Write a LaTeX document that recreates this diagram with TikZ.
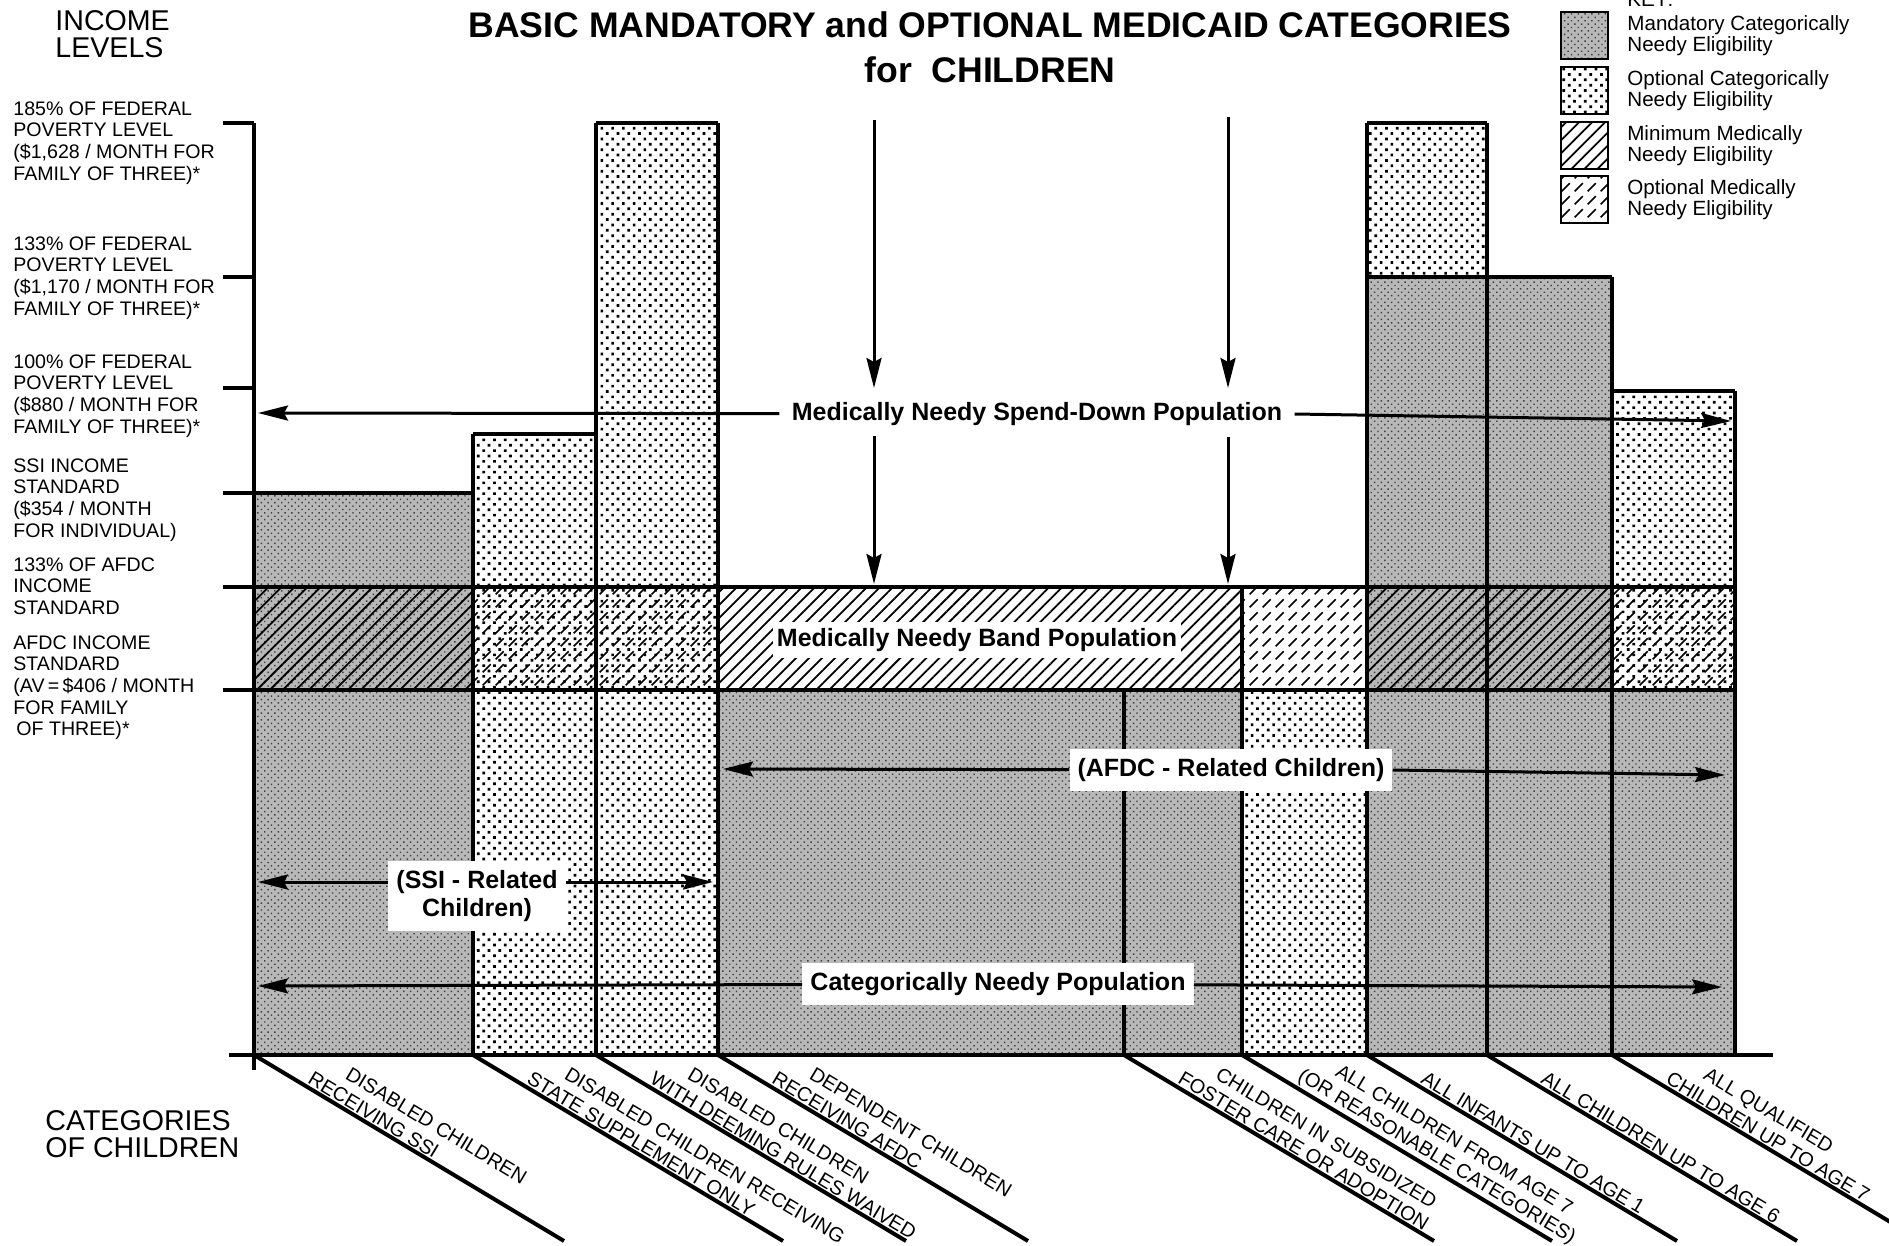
\documentclass[tikz,border=0pt]{standalone}
\usepackage{fontspec}
\setmainfont{Liberation Sans}
\usepackage{tikz}
\usetikzlibrary{arrows.meta,positioning,patterns.meta}

% short dashes on the diagonal, for the optional medically needy band
\pgfdeclarepattern{
  name=dashhatch,
  type=uncolored,
  bottom left={\pgfpoint{0pt}{0pt}},
  top right={\pgfpoint{6.5pt}{6.5pt}},
  tile size={\pgfpoint{6.5pt}{6.5pt}},
  code={
    \pgfsetlinewidth{0.9pt}
    \pgfpathmoveto{\pgfpoint{0.9pt}{0.9pt}}
    \pgfpathlineto{\pgfpoint{5.2pt}{5.2pt}}
    \pgfusepath{stroke}
  }
}

\definecolor{mandgray}{gray}{0.72}
\tikzstyle{mand} = [preaction={fill=mandgray}, pattern={Dots[distance=2.4pt, radius=0.5pt, angle=45]}, pattern color=black!75]
\tikzstyle{optc} = [pattern={Dots[distance=3.8pt, radius=0.95pt, angle=45]}]
\tikzstyle{minmed} = [pattern={Lines[angle=45, distance=4.6pt, line width=0.9pt]}]
\tikzstyle{optmed} = [pattern=dashhatch]
\tikzstyle{outl} = [draw, line width=2pt]
\tikzstyle{arr} = [draw, line width=1.5pt, -{Stealth[length=15pt, width=7.5pt, inset=2pt]}]
\tikzstyle{ttl} = [inner sep=0pt, font=\bfseries\fontsize{17.8}{20}\selectfont]
\tikzstyle{axt} = [align=left, anchor=north west, inner sep=0pt, font=\fontsize{14.3}{13.6}\selectfont]
\tikzstyle{lvl} = [align=left, anchor=north west, inner sep=0pt, font=\fontsize{9.8}{10.85}\selectfont]
\tikzstyle{pop} = [fill=white, align=center, inner xsep=4pt, inner ysep=4.5pt, font=\bfseries\fontsize{12.5}{14}\selectfont]
\tikzstyle{diag} = [rotate=-31, anchor=south west, align=left, inner sep=1.5pt, font=\fontsize{10}{11.5}\selectfont]
\tikzstyle{keybox} = [draw, line width=1pt, inner sep=0pt, minimum width=23.5pt, minimum height=23.5pt]
\tikzstyle{keytext} = [align=left, inner sep=0pt, font=\fontsize{10.3}{10.5}\selectfont]

\begin{document}
\begin{tikzpicture}[x=0.5pt, y=-0.5pt]
\useasboundingbox (0,0) rectangle (1889,1246);

% title =============================
\node[ttl] (title) at (990,25) {BASIC MANDATORY and OPTIONAL MEDICAID CATEGORIES};
\node[ttl, below=9pt of title] (title2) {for\ \ CHILDREN};

% key =============================
\node[keytext, anchor=base west] (keyhd) at (1627,7) {KEY:};
\node[keybox, mand] (kmand) at (1584.5,35.5) {};
\node[keybox, optc] (kopt) at (1584.5,91) {};
\node[keybox, minmed] (kmin) at (1584.5,145.5) {};
\node[keybox, optmed] (komed) at (1584.5,199.5) {};
\node[keytext, right=9pt of kmand] {Mandatory Categorically\\Needy Eligibility};
\node[keytext, right=9pt of kopt] {Optional Categorically\\Needy Eligibility};
\node[keytext, right=9pt of kmin] {Minimum Medically\\Needy Eligibility};
\node[keytext, right=9pt of komed] {Optional Medically\\Needy Eligibility};

% columns =============================
\fill[mand] (254,493) rectangle (473,1055);
\fill[optc] (473,434) rectangle (596,1055);
\fill[optc] (596,123) rectangle (718,1055);
\fill[mand] (718,690) rectangle (1242,1055);
\fill[optc] (1242,690) rectangle (1367,1055);
\fill[optc] (1367,123) rectangle (1487,277);
\fill[mand] (1367,277) rectangle (1612,1055);
\fill[optc] (1612,391) rectangle (1735,690);
\fill[mand] (1612,690) rectangle (1735,1055);

% band
\fill[minmed] (254,587) rectangle (473,690);
\fill[optmed] (473,587) rectangle (718,690);
\fill[minmed] (718,587) rectangle (1242,690);
\fill[optmed] (1242,587) rectangle (1367,690);
\fill[minmed] (1367,587) rectangle (1612,690);
\fill[optmed] (1612,587) rectangle (1735,690);

% outlines
\path[outl] (223,123) -- (254,123);
\path[outl] (223,277) -- (254,277);
\path[outl] (223,388) -- (254,388);
\path[outl] (223,493) -- (473,493);
\path[outl] (223,587) -- (1735,587);
\path[outl] (223,690) -- (1735,690);
\path[outl] (473,434) -- (596,434);
\path[outl] (596,123) -- (718,123);
\path[outl] (1367,123) -- (1487,123);
\path[outl] (1367,277) -- (1612,277);
\path[outl] (1612,391) -- (1735,391);
\path[outl] (254,123) -- (254,1070);
\path[outl] (473,434) -- (473,1055);
\path[outl] (596,123) -- (596,1055);
\path[outl] (718,123) -- (718,1055);
\path[outl] (1124,690) -- (1124,1055);
\path[outl] (1242,587) -- (1242,1055);
\path[outl] (1367,123) -- (1367,1055);
\path[outl] (1487,123) -- (1487,1055);
\path[outl] (1612,277) -- (1612,1055);
\path[outl] (1735,391) -- (1735,1055);
\path[outl] (229,1055) -- (1773,1055);

% spend-down arrows
\node[pop, inner xsep=6pt] (sdlbl) at (1037,414) {Medically Needy Spend-Down Population};
\coordinate (sdL) at (258,413);
\coordinate (sdR) at (1731,421);
\path[arr] (sdlbl) -- (sdL);
\path[arr] (sdlbl.east) -- (sdR);

\coordinate (va) at (874,120);
\coordinate (vatip) at (874,388);
\coordinate (vb) at (874,436);
\coordinate (vbtip) at (874,584);
\coordinate (wa) at (1228,117);
\coordinate (watip) at (1228,388);
\coordinate (wb) at (1228,437);
\coordinate (wbtip) at (1228,584);
\path[arr] (va) -- (vatip);
\path[arr] (vb) -- (vbtip);
\path[arr] (wa) -- (watip);
\path[arr] (wb) -- (wbtip);

\node[pop, inner xsep=2pt, inner ysep=3pt] (bandlbl) at (977,640) {Medically Needy Band Population};

% population arrows
\node[pop] (afdclbl) at (1231,770) {(AFDC - Related Children)};
\coordinate (afdcL) at (723,769);
\coordinate (afdcR) at (1725,775);
\path[arr] (afdclbl) -- (afdcL);
\path[arr] (afdclbl.east) -- (afdcR);

\node[pop] (ssilbl) at (477,896) {(SSI - Related\\Children)};
\coordinate (ssiL) at (258,882);
\coordinate (ssiR) at (713,882);
\path[arr] (ssilbl.west |- ssiL) -- (ssiL);
\path[arr] (ssilbl.east |- ssiR) -- (ssiR);

\node[pop] (catlbl) at (998,984) {Categorically Needy Population};
\coordinate (catL) at (258,986);
\coordinate (catR) at (1722,987);
\path[arr] (catlbl) -- (catL);
\path[arr] (catlbl) -- (catR);

% income levels =============================
\node[axt] (inclbl) at (55,10) {INCOME\\LEVELS};
\node[lvl] (l185) at (13,101) {185\% OF FEDERAL\\POVERTY LEVEL\\(\$1,628 / MONTH FOR\\FAMILY OF THREE)*};
\node[lvl] (l133) at (13,236) {133\% OF FEDERAL\\POVERTY LEVEL\\(\$1,170 / MONTH FOR\\FAMILY OF THREE)*};
\node[lvl] (l100) at (13,354) {100\% OF FEDERAL\\POVERTY LEVEL\\(\$880 / MONTH FOR\\FAMILY OF THREE)*};
\node[lvl] (lssi) at (13,458) {SSI INCOME\\STANDARD\\(\$354 / MONTH\\FOR INDIVIDUAL)};
\node[lvl] (l133a) at (13,557) {133\% OF AFDC\\INCOME\\STANDARD};
\node[lvl] (lafdc) at (13,635) {AFDC INCOME\\STANDARD\\(AV\,=\,\$406 / MONTH\\FOR FAMILY\\\hspace*{1.5pt}OF THREE)*};

% categories =============================
\node[axt] (catchild) at (45,1110) {CATEGORIES\\OF CHILDREN};

\coordinate (d0) at (254,1055);
\coordinate (d1) at (473,1055);
\coordinate (d2) at (596,1055);
\coordinate (d3) at (718,1055);
\coordinate (d4) at (1124,1055);
\coordinate (d5) at (1242,1055);
\coordinate (d6) at (1367,1055);
\coordinate (d7) at (1487,1055);
\coordinate (d8) at (1612,1055);
\path[outl] (d0) -- ++(310,186);
\path[outl] (d1) -- ++(310,186);
\path[outl] (d2) -- ++(310,186);
\path[outl] (d3) -- ++(310,186);
\path[outl] (d4) -- ++(310,186);
\path[outl] (d5) -- ++(310,186);
\path[outl] (d6) -- ++(310,186);
\path[outl] (d7) -- ++(310,186);
\path[outl] (d8) -- ++(310,186);

\node[diag] (c1) at ([shift={(48,29)}]d0) {\hspace*{15pt}DISABLED CHILDREN\\RECEIVING SSI};
\node[diag] (c2) at ([shift={(48,29)}]d1) {\hspace*{15pt}DISABLED CHILDREN RECEIVING\\STATE SUPPLEMENT ONLY};
\node[diag] (c3) at ([shift={(48,29)}]d2) {\hspace*{15pt}DISABLED CHILDREN\\WITH DEEMING RULES WAIVED};
\node[diag] (c4) at ([shift={(48,29)}]d3) {\hspace*{15pt}DEPENDENT CHILDREN\\RECEIVING AFDC};
\node[diag] (c5) at ([shift={(48,29)}]d4) {\hspace*{15pt}CHILDREN IN SUBSIDIZED\\FOSTER CARE OR ADOPTION};
\node[diag] (c6) at ([shift={(48,29)}]d5) {\hspace*{15pt}ALL CHILDREN FROM AGE 7\\(OR REASONABLE CATEGORIES)};
\node[diag] (c7) at ([shift={(48,29)}]d6) {ALL INFANTS UP TO AGE 1};
\node[diag] (c8) at ([shift={(48,29)}]d7) {ALL CHILDREN UP TO AGE 6};
\node[diag] (c9) at ([shift={(48,29)}]d8) {\hspace*{15pt}ALL QUALIFIED\\CHILDREN UP TO AGE 7};

\end{tikzpicture}
\end{document}
